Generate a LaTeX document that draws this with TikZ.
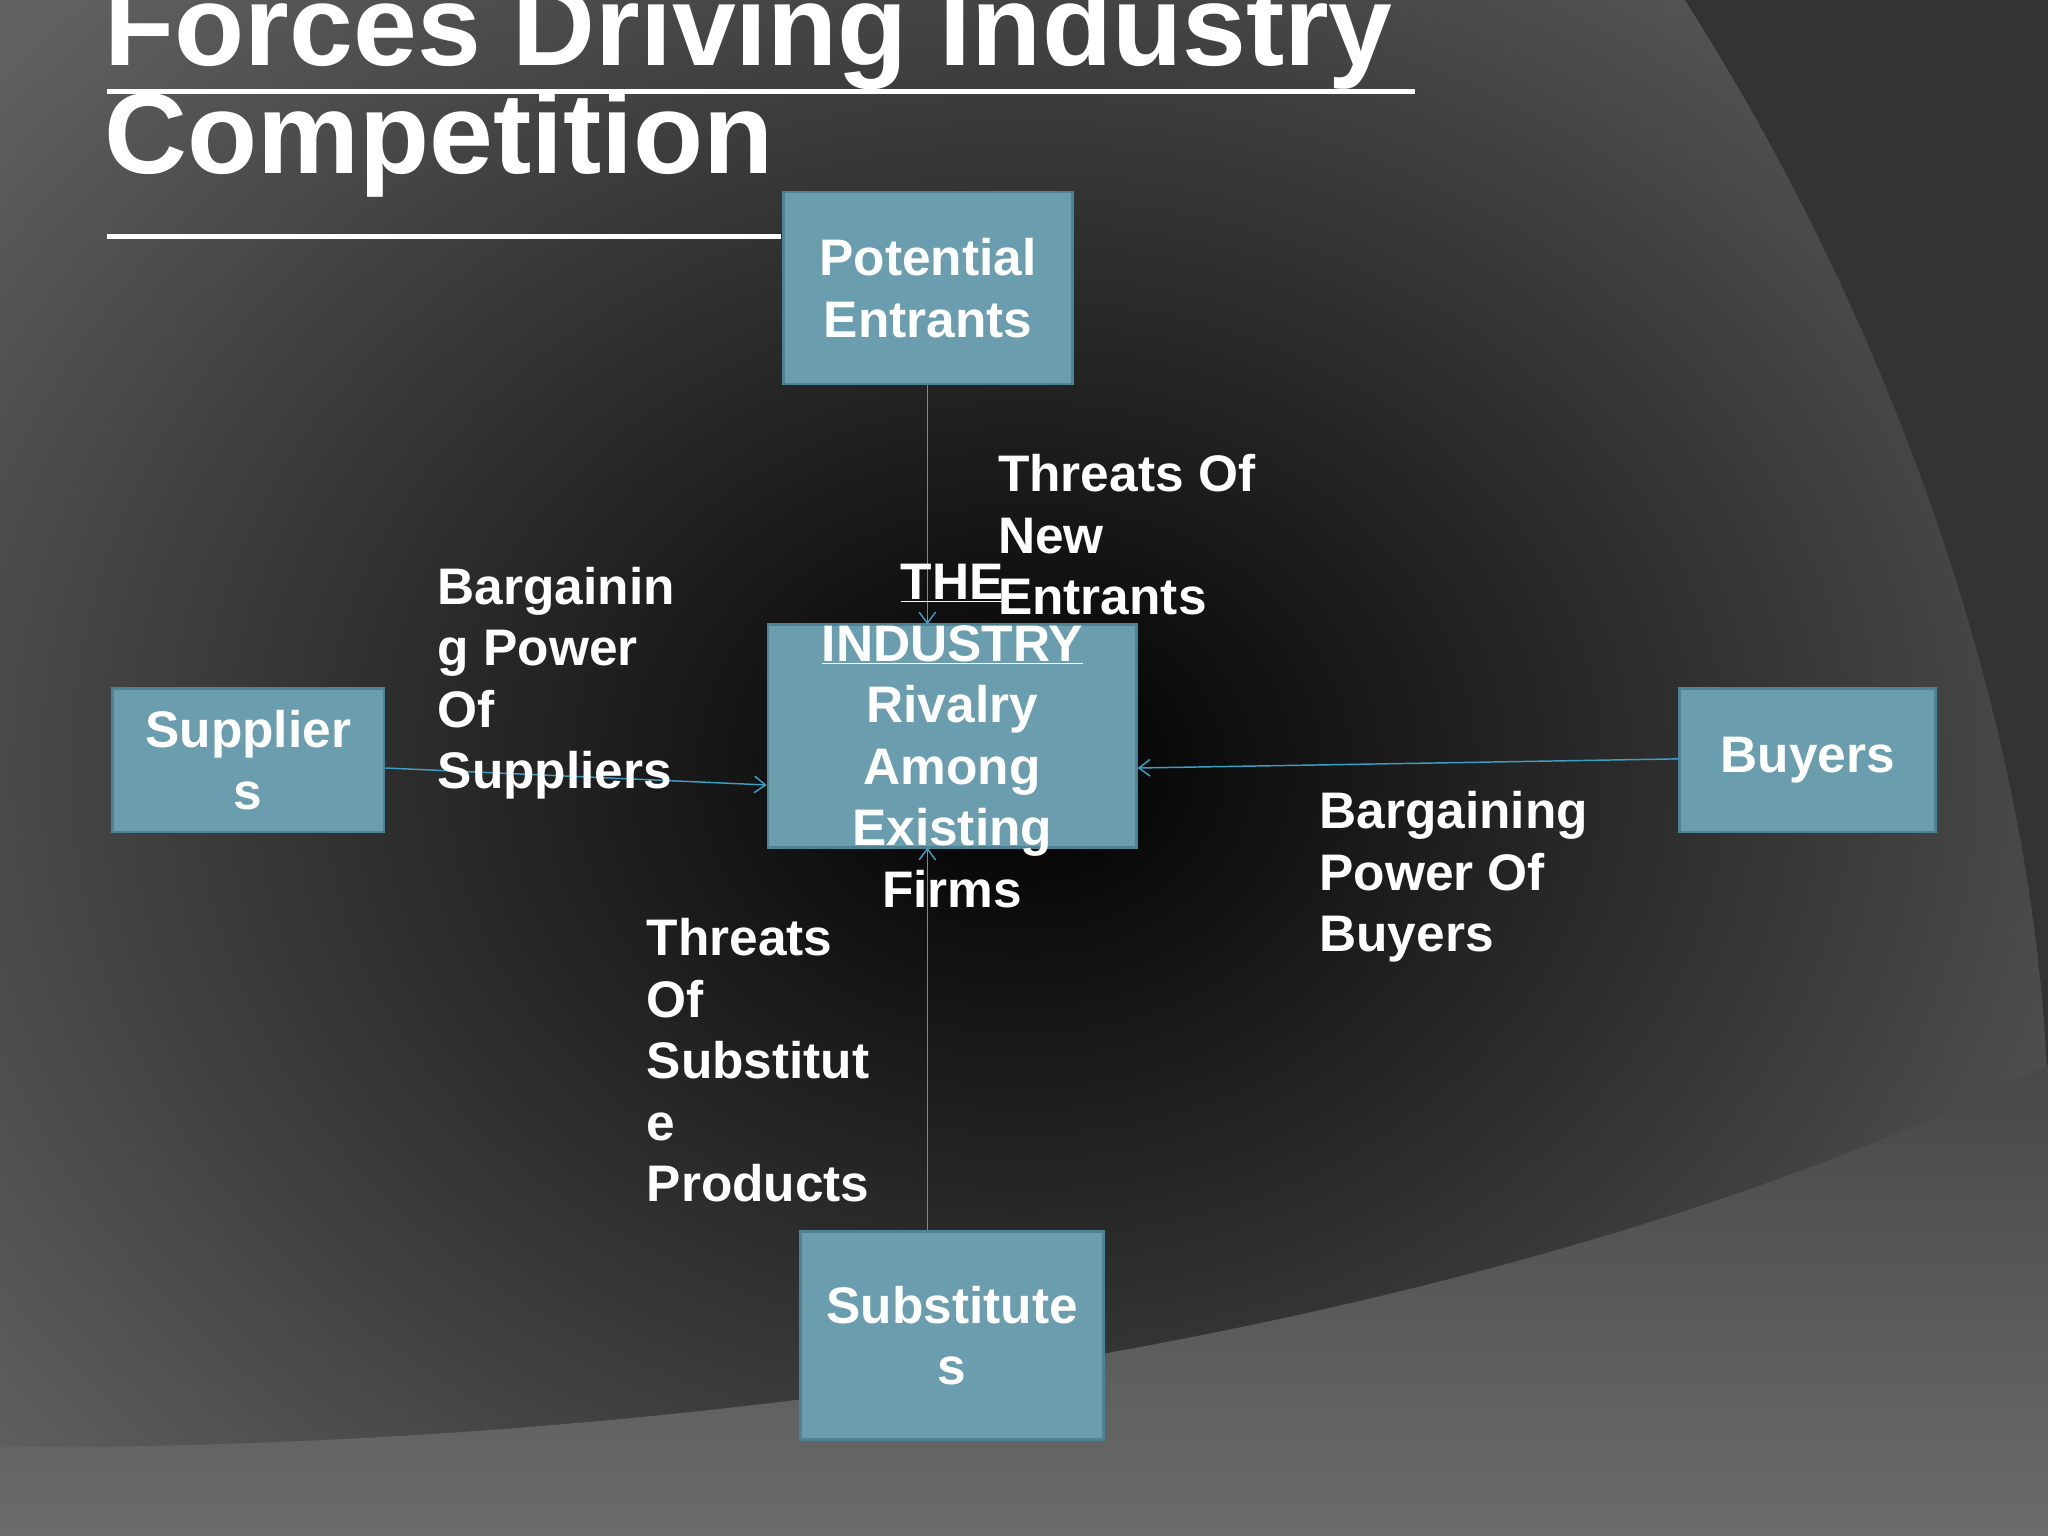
\documentclass[tikz,border=0pt]{standalone}
\usepackage{fontspec}
\setmainfont{Liberation Sans}
\usetikzlibrary{arrows.meta}
\definecolor{boxfill}{HTML}{6A9DAE}
\definecolor{boxline}{HTML}{4E8295}
\definecolor{arr}{HTML}{3A9FC2}
\newcommand{\ul}[1]{\underline{#1}}
\begin{document}
\begin{tikzpicture}[x=0.05cm,y=-0.05cm,
  box/.style={draw=boxline,line width=3pt,fill=boxfill,inner sep=0pt},
  btxt/.style={text=white,font=\bfseries\fontsize{56}{67}\selectfont,align=center,inner sep=0pt},
  lbl/.style={text=white,font=\bfseries\fontsize{56}{67}\selectfont,align=left,inner sep=0pt,anchor=north west},
  conn/.style={draw=arr,line width=1.6pt,-{Straight Barb[length=12pt,width=18pt]}}]
\useasboundingbox (0,0) rectangle (1568,1176);
\shade[inner color=black,outer color=black!62!white,shading=radial] (-250,-250) rectangle (1818,1426);
\fill[black!80!white] (1290,0) .. controls (1450,250) and (1560,560) .. (1568,840) -- (1568,0) -- cycle;
\shade[top color=black!72!white,bottom color=black!58!white] (0,1108) .. controls (600,1110) and (1200,1000) .. (1568,815) -- (1568,1176) -- (0,1176) -- cycle;
% title
\node[text=white,font=\bfseries\fontsize{125}{110}\selectfont,align=left,anchor=north west,inner sep=0pt] (title) at (80,-14) {Forces Driving Industry\\Competition};
\draw[white,line width=6pt] (82,70) -- (1083,70);
\draw[white,line width=6pt] (82,181) -- (598,181);
% boxes
\node[box,minimum width=221*0.05cm,minimum height=147*0.05cm] (pe) at (710.5,220.5) {};
\node[btxt] at (pe) {Potential\\Entrants};
\node[box,minimum width=208*0.05cm,minimum height=110*0.05cm] (sup) at (190,582) {};
\node[btxt] at (sup) {Supplier\\s};
\node[box,minimum width=282*0.05cm,minimum height=171*0.05cm] (ind) at (729,563.5) {};
\node[box,minimum width=196*0.05cm,minimum height=110*0.05cm] (buy) at (1384,582) {};
\node[btxt] at (buy) {Buyers};
\node[box,minimum width=232*0.05cm,minimum height=159*0.05cm] (sub) at (729,1022.5) {};
\node[btxt] at (sub) {Substitute\\s};
% arrows
\draw[conn] (pe.south -| 710,0) -- (710,478);
\draw[conn] (sup.east |- 0,588) -- (ind.west |- 0,601);
\draw[conn] (buy.west |- 0,581) -- (ind.east |- 0,588);
\draw[conn] (sub.north -| 710,0) -- (710,649);
% industry text
\node[btxt,anchor=north] (indt) at (729,432) {\ul{THE}\\\ul{INDUSTRY}\\Rivalry\\Among\\Existing\\Firms};
% labels
\node[lbl] (l1) at (764,348) {Threats Of\\New\\Entrants};
\node[lbl] (l2) at (335,434) {Bargainin\\g Power\\Of\\Suppliers};
\node[lbl] (l3) at (1010,606) {Bargaining\\Power Of\\Buyers};
\node[lbl] (l4) at (495,703) {Threats\\Of\\Substitut\\e\\Products};
\end{tikzpicture}
\end{document}
